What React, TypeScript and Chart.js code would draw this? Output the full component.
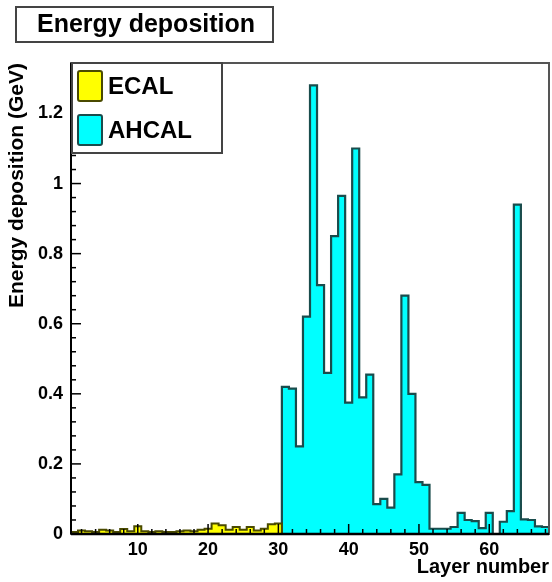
import React, { useEffect, useRef } from "react";
import { Chart, registerables } from "chart.js";

Chart.register(...registerables);

// ---- Data ----
const ecalFirstLayer = 1;
const ecalValues = [
  0.006, 0.01, 0.008, 0.006, 0.012, 0.01, 0.006, 0.014, 0.008, 0.022,
  0.008, 0.006, 0.008, 0.006, 0.006, 0.008, 0.01, 0.008, 0.012, 0.015,
  0.03, 0.025, 0.012, 0.02, 0.012, 0.02, 0.01, 0.015, 0.028, 0.03,
];
const ahcalFirstLayer = 31;
const ahcalValues = [
  0.42, 0.415, 0.25, 0.62, 1.28, 0.71, 0.46, 0.85, 0.965, 0.375,
  1.1, 0.39, 0.455, 0.085, 0.1, 0.075, 0.17, 0.68, 0.4, 0.148,
  0.14, 0.015, 0.015, 0.015, 0.02, 0.06, 0.04, 0.037, 0.017, 0.06,
  0.0, 0.035, 0.065, 0.94, 0.042, 0.04, 0.022, 0.02,
];
const xTickValues = [10, 20, 30, 40, 50, 60];
const xTickLabels = ["10", "20", "30", "40", "50", "60"];
const yTickValues = [0, 0.2, 0.4, 0.6, 0.8, 1.0, 1.2];
const yTickLabels = ["0", "0.2", "0.4", "0.6", "0.8", "1", "1.2"];
const seriesLabels = ["ECAL", "AHCAL"];
const titleText = "Energy deposition";
const xTitle = "Layer number";
const yTitle = "Energy deposition (GeV)";

const FONT = "'Liberation Sans', Arial, Helvetica, sans-serif";
const ECAL_FILL = "#ffff00";
const ECAL_LINE = "#4a4a00";
const AHCAL_FILL = "#00ffff";
const AHCAL_LINE = "#1a4c4c";

function stepPoints(first: number, values: number[]) {
  const pts: { x: number; y: number }[] = [{ x: first - 0.5, y: 0 }];
  values.forEach((v, i) => pts.push({ x: first + i - 0.5, y: v }));
  pts.push({ x: first + values.length - 0.5, y: 0 });
  return pts;
}

const decorPlugin = {
  id: "rootDecor",
  afterDraw(chart: any) {
    const { ctx, chartArea } = chart;
    const { left, right, top, bottom } = chartArea;
    const xs = chart.scales.x;
    const ys = chart.scales.y;
    ctx.save();

    // frame
    ctx.strokeStyle = "#555";
    ctx.lineWidth = 2;
    ctx.strokeRect(left, top, right - left, bottom - top);

    // axes
    ctx.strokeStyle = "#000";
    ctx.lineWidth = 2;
    ctx.beginPath();
    ctx.moveTo(left, top);
    ctx.lineTo(left, bottom);
    ctx.stroke();
    ctx.lineWidth = 2.5;
    ctx.beginPath();
    ctx.moveTo(left, bottom);
    ctx.lineTo(right, bottom);
    ctx.stroke();

    // y ticks (inward)
    ctx.lineWidth = 1.5;
    for (let i = 0; i <= 33; i++) {
      const v = i * 0.04;
      const y = ys.getPixelForValue(v);
      if (y < top) break;
      const major = i % 5 === 0;
      ctx.beginPath();
      ctx.moveTo(left, y);
      ctx.lineTo(left + (major ? 10 : 5), y);
      ctx.stroke();
    }
    // x ticks (inward)
    for (let v = 2; v <= 68; v += 2) {
      const x = xs.getPixelForValue(v);
      const major = v % 10 === 0;
      ctx.beginPath();
      ctx.moveTo(x, bottom);
      ctx.lineTo(x, bottom - (major ? 10 : 5));
      ctx.stroke();
    }

    // title box
    ctx.fillStyle = "#fff";
    ctx.fillRect(16, 7, 257, 35);
    ctx.strokeStyle = "#444";
    ctx.lineWidth = 2;
    ctx.strokeRect(16, 7, 257, 35);
    ctx.fillStyle = "#000";
    ctx.font = `bold 25px ${FONT}`;
    ctx.textAlign = "center";
    ctx.textBaseline = "middle";
    ctx.fillText(titleText, 146, 25);

    // legend box
    const lx = left + 1, ly = top, lw = 150, lh = 90;
    ctx.fillStyle = "#fff";
    ctx.fillRect(lx, ly, lw, lh);
    ctx.strokeStyle = "#444";
    ctx.lineWidth = 2;
    ctx.strokeRect(lx, ly, lw, lh);
    const ds = chart.data.datasets;
    const rows = [86, 130];
    ds.forEach((d: any, i: number) => {
      const cy = rows[i];
      ctx.fillStyle = d.backgroundColor;
      ctx.strokeStyle = d.borderColor;
      ctx.lineWidth = 2;
      ctx.beginPath();
      ctx.roundRect(78, cy - 15, 24, 30, 2);
      ctx.fill();
      ctx.stroke();
      ctx.fillStyle = "#000";
      ctx.font = `bold 24px ${FONT}`;
      ctx.textAlign = "left";
      ctx.textBaseline = "middle";
      ctx.fillText(d.label, 108, cy + 1);
    });

    ctx.restore();
  },
};

export default function App() {
  const ref = useRef<HTMLCanvasElement | null>(null);
  useEffect(() => {
    if (!ref.current) return;
    const chart = new Chart(ref.current, {
      type: "line",
      data: {
        datasets: [
          {
            label: seriesLabels[0],
            data: stepPoints(ecalFirstLayer, ecalValues),
            stepped: true,
            fill: "origin",
            backgroundColor: ECAL_FILL,
            borderColor: ECAL_LINE,
            borderWidth: 2,
            pointRadius: 0,
          },
          {
            label: seriesLabels[1],
            data: stepPoints(ahcalFirstLayer, ahcalValues),
            stepped: true,
            fill: "origin",
            backgroundColor: AHCAL_FILL,
            borderColor: AHCAL_LINE,
            borderWidth: 2.2,
            pointRadius: 0,
          },
        ],
      },
      options: {
        animation: false,
        responsive: false,
        devicePixelRatio: 1,
        layout: { padding: { left: 0, top: 63, right: 3, bottom: 0 } },
        plugins: {
          legend: { display: false },
          title: { display: false },
          tooltip: { enabled: false },
        },
        scales: {
          x: {
            type: "linear",
            min: 0.5,
            max: 68.5,
            grid: { display: false, drawTicks: false },
            border: { display: false },
            afterBuildTicks: (s: any) => {
              s.ticks = xTickValues.map((v) => ({ value: v }));
            },
            afterFit: (s: any) => {
              s.height = 48;
            },
            ticks: {
              autoSkip: false,
              maxRotation: 0,
              padding: 5,
              color: "#000",
              font: { family: FONT, weight: "bold", size: 18 },
              callback: (_v: any, i: number) => xTickLabels[i],
            },
            title: {
              display: true,
              text: xTitle,
              align: "end",
              color: "#000",
              font: { family: FONT, weight: "bold", size: 20 },
              padding: { top: 0, bottom: 3 },
            },
          },
          y: {
            type: "linear",
            min: 0,
            max: 1.344,
            grid: { display: false, drawTicks: false },
            border: { display: false },
            afterBuildTicks: (s: any) => {
              s.ticks = yTickValues.map((v) => ({ value: v }));
            },
            afterFit: (s: any) => {
              s.width = 71;
            },
            ticks: {
              autoSkip: false,
              padding: 8,
              color: "#000",
              font: { family: FONT, weight: "bold", size: 18 },
              callback: (_v: any, i: number) => yTickLabels[i],
            },
            title: {
              display: true,
              text: yTitle,
              align: "end",
              color: "#000",
              font: { family: FONT, weight: "bold", size: 21 },
              padding: { top: 5, bottom: 0 },
            },
          },
        },
      } as any,
      plugins: [decorPlugin],
    });
    return () => chart.destroy();
  }, []);

  return (
    <div
      style={{
        position: "fixed",
        left: 0,
        top: 0,
        width: 552,
        height: 582,
        background: "#fff",
      }}
    >
      <canvas ref={ref} width={552} height={582} style={{ display: "block" }} />
    </div>
  );
}
